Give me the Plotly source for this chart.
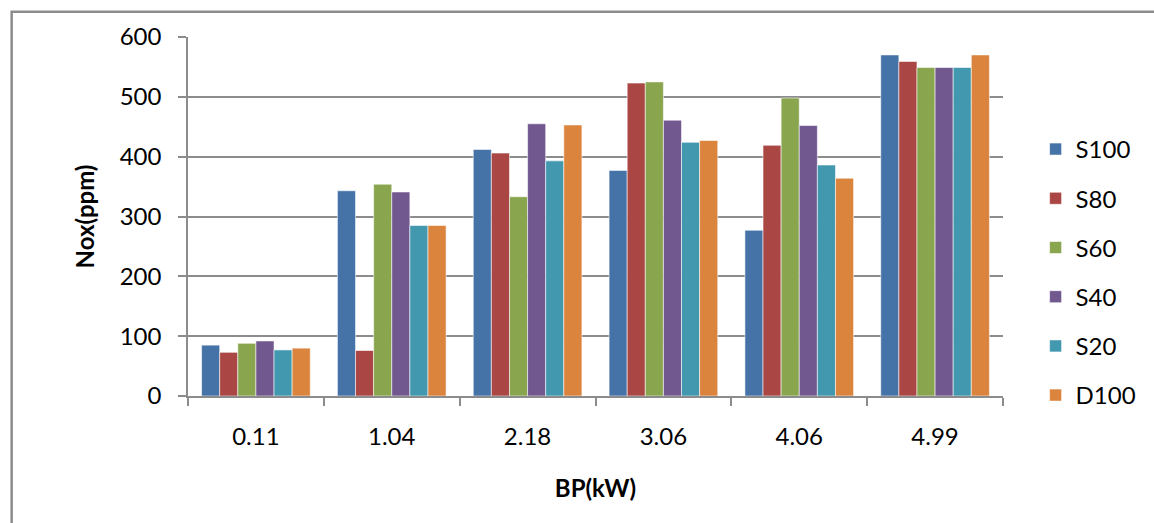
import plotly.graph_objects as go

categories = ["0.11", "1.04", "2.18", "3.06", "4.06", "4.99"]
series_names = ["S100", "S80", "S60", "S40", "S20", "D100"]
s100 = [85, 343, 412, 377, 277, 570]
s80 = [73, 76, 406, 523, 419, 559]
s60 = [88, 354, 333, 525, 498, 549]
s40 = [92, 341, 455, 461, 452, 549]
s20 = [77, 285, 393, 424, 386, 549]
d100 = [80, 285, 453, 427, 364, 570]
y_ticks = [0, 100, 200, 300, 400, 500, 600]

values = [s100, s80, s60, s40, s20, d100]
colors = ["#4572A7", "#AA4643", "#89A54E", "#71588F", "#4198AF", "#DB843D"]

W, H = 1154, 523
L, R, T, B = 188, 141, 37, 127
pw = W - L - R
ph = H - T - B

def px2x(px):
    return (px - L) / pw

def py2y(py):
    return (H - B - py) / ph

font_family = "Lato, Carlito, Calibri, sans-serif"
gray = "#8c8c8c"
fs = 24

fig = go.Figure()
for name, vals, col in zip(series_names, values, colors):
    fig.add_trace(go.Bar(
        x=categories, y=vals, name=name, legendgroup=name,
        marker=dict(color=col, line=dict(color="rgba(255,255,255,0.7)", width=0.8)),
    ))

fig.update_layout(
    width=W, height=H,
    margin=dict(l=L, r=R, t=T, b=B),
    paper_bgcolor="white", plot_bgcolor="white",
    barmode="group", bargap=0.2, bargroupgap=0,
    font=dict(family=font_family, size=fs, color="#000000"),
    showlegend=True,
    legend=dict(
        x=px2x(1046), xanchor="left", y=py2y(127), yanchor="top",
        font=dict(size=fs), tracegroupgap=15, bgcolor="rgba(0,0,0,0)",
    ),
    xaxis=dict(
        type="category", showline=True, linecolor=gray, linewidth=1.5,
        ticks="outside", tickson="boundaries", ticklen=8, tickcolor=gray, tickwidth=1.5,
        showgrid=False, ticklabelstandoff=18,
        title=dict(text="<b>BP(kW)</b>", font=dict(size=fs), standoff=32),
    ),
    yaxis=dict(
        range=[0, 600], tickvals=y_ticks, showline=True, linecolor=gray, linewidth=1.5,
        ticks="outside", ticklen=8, tickcolor=gray, tickwidth=1.5,
        showgrid=True, gridcolor=gray, gridwidth=1.5, zeroline=False,
        ticklabelstandoff=12,
        title=dict(text="<b>Nox(ppm)</b>", font=dict(size=fs), standoff=18),
    ),
    shapes=[dict(
        type="rect", xref="paper", yref="paper",
        x0=px2x(9.5), x1=px2x(1200), y0=py2y(600), y1=py2y(11.7),
        line=dict(color=gray, width=2.5), fillcolor="rgba(0,0,0,0)", layer="below",
    )],
)

fig.write_html("out.html")
